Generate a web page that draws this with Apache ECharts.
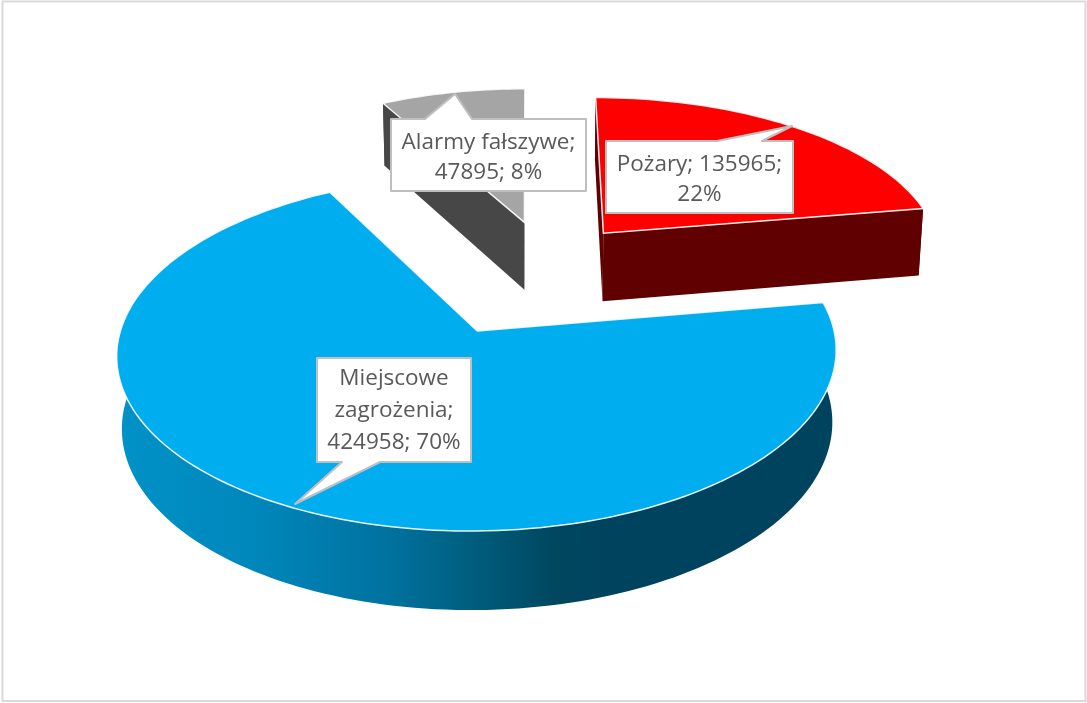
<!DOCTYPE html>
<html>
<head>
<meta charset="utf-8">
<style>html,body{margin:0;padding:0;background:#fff}#c{width:1087px;height:703px}</style>
<script src="https://cdn.jsdelivr.net/npm/echarts@6/dist/echarts.min.js"></script>
</head>
<body>
<div id="c"></div>
<script>
const categories = ['Pożary', 'Miejscowe zagrożenia', 'Alarmy fałszywe'];
const values = [135965, 424958, 47895];

// Perspective of the tilted disc (layout only)
const view = { ax: 529, ay: 276.5, A: 343, B: 161.7, k: 0.12, m: 0.012, H: 70.5 };
const explode = [[0.224, 0.276], [-0.145, -0.324], [-0.014, 0.349]];
const topColors = ['#ff0000', '#00aeef', '#a5a5a5'];
const sideColors = ['#600000', null, '#474747'];
const sideGradient = [
  [0, '#0092c8'], [0.19, '#0087bb'], [0.377, '#00729f'],
  [0.47, '#006285'], [0.61, '#00475f'], [0.675, '#00435f'], [1, '#00435f']
];
const order = [10, 20, 0];
const callouts = [
  { box: [606, 141, 793, 213], tip: [792, 126], base: [717, 762], side: 'top', dy: 3, lh: 30, lines: (n, v, p) => [n + '; ' + v + ';', p + '%'] },
  { box: [317, 358, 471, 462], tip: [295, 504], base: [342, 380], side: 'bottom', dy: 1, lh: 32, lines: (n, v, p) => [...n.split(' ').map((w, i, a) => i === a.length - 1 ? w + ';' : w), v + '; ' + p + '%'] },
  { box: [391, 119, 586, 191], tip: [455, 94], base: [425, 472], side: 'top', dy: 3, lh: 30, lines: (n, v, p) => [n + ';', v + '; ' + p + '%'] }
];

const total = values.reduce((a, b) => a + b, 0);

function project(u, v, z) {
  const w = 1 + view.k * v + view.m * z;
  return [view.ax + view.A * u / w, view.ay - view.B * v / w + view.H * z / w];
}

function renderSlice(params, api) {
  const i = params.dataIndex;
  const value = api.value(0);
  let before = 0;
  for (let j = 0; j < i; j++) before += values[j];
  const a0 = 90 - before / total * 360;
  const a1 = a0 - value / total * 360;
  const [eu, ev] = explode[i];
  const rim = z => {
    const pts = [];
    const n = Math.max(2, Math.ceil((a0 - a1) / 1.5));
    for (let s = 0; s <= n; s++) {
      const t = (a0 + (a1 - a0) * s / n) * Math.PI / 180;
      pts.push(project(eu + Math.cos(t), ev + Math.sin(t), z));
    }
    return pts;
  };
  const apexTop = project(eu, ev, 0), apexBot = project(eu, ev, 1);
  const top = rim(0), bot = rim(1);
  const side = sideColors[i] || {
    type: 'linear', x: 0, y: 0, x2: 1, y2: 0,
    colorStops: sideGradient.map(s => ({ offset: s[0], color: s[1] }))
  };
  const z = order[i];
  const children = [];
  const poly = (points, fill, z2, stroke, lw) => children.push({
    type: 'polygon', z2: z2,
    shape: { points: points },
    style: { fill: fill, stroke: stroke || null, lineWidth: lw || 0 }
  });
  poly(top.concat(bot.slice().reverse()), side, z);
  poly([apexTop, top[0], bot[0], apexBot], sideColors[i] || '#00435f', z + 1);
  poly([apexTop, top[top.length - 1], bot[bot.length - 1], apexBot], sideColors[i] || '#00435f', z + 1);
  poly([apexTop].concat(top), topColors[i], z + 2, 'rgba(255,255,255,0.9)', 1.5);

  const c = callouts[i];
  const [x0, y0, x1, y1] = c.box;
  const pts = c.side === 'top'
    ? [[x0, y0], [c.base[0], y0], c.tip, [c.base[1], y0], [x1, y0], [x1, y1], [x0, y1]]
    : [[x0, y0], [x1, y0], [x1, y1], [c.base[1], y1], c.tip, [c.base[0], y1], [x0, y1]];
  children.push({
    type: 'polygon', z2: 40, shape: { points: pts },
    style: { fill: '#fff', stroke: '#bfbfbf', lineWidth: 2, lineJoin: 'round' }
  });
  const pct = Math.round(value / total * 100);
  children.push({
    type: 'text', z2: 41,
    style: {
      x: (x0 + x1) / 2, y: (y0 + y1) / 2 + c.dy,
      text: c.lines(categories[i], value, pct).join('\n'),
      align: 'center', verticalAlign: 'middle',
      fontFamily: '"Open Sans"', fontSize: 22.5, lineHeight: c.lh, fill: '#595959'
    }
  });
  return { type: 'group', children: children };
}

const chart = echarts.init(document.getElementById('c'), null, { renderer: 'canvas', width: 1087, height: 703 });
chart.setOption({
  animation: false,
  backgroundColor: '#fff',
  graphic: [{
    type: 'rect', silent: true,
    shape: { x: 2.5, y: 1.5, width: 1083, height: 699.5 },
    style: { fill: 'none', stroke: '#d9d9d9', lineWidth: 2 }
  }],
  series: [{
    type: 'custom',
    coordinateSystem: 'none',
    renderItem: renderSlice,
    data: values.map((v, i) => ({ name: categories[i], value: [v] }))
  }]
});
</script>
</body>
</html>
